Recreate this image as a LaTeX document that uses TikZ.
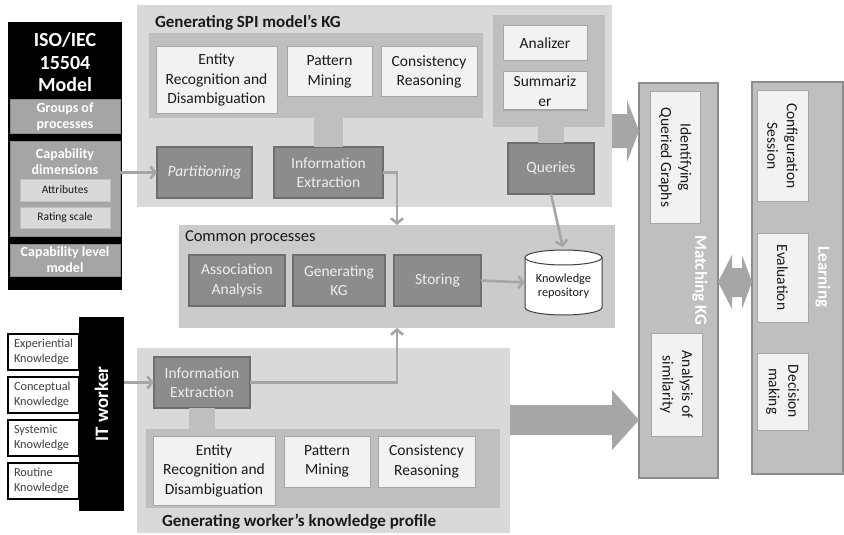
\documentclass[tikz,border=0pt]{standalone}
\usepackage{fontspec}
\setmainfont{Carlito}
\usetikzlibrary{arrows.meta,calc}

\definecolor{panelc}{HTML}{D9D9D9}
\definecolor{commonc}{HTML}{CBCBCB}
\definecolor{innerc}{HTML}{BFBFBF}
\definecolor{wboxc}{HTML}{F2F2F2}
\definecolor{wborder}{HTML}{A6A6A6}
\definecolor{dboxc}{HTML}{8C8C8C}
\definecolor{dborder}{HTML}{6E6E6E}
\definecolor{dtext}{HTML}{EEEEEE}
\definecolor{isogray}{HTML}{A5A5A5}
\definecolor{isoborder}{HTML}{8A8A8A}
\definecolor{arrc}{HTML}{A6A6A6}
\definecolor{colc}{HTML}{BFBFBF}
\definecolor{colborder}{HTML}{8C8C8C}
\definecolor{ink}{HTML}{1A1A1A}

\newcommand\fntBox{\fontsize{15.5}{19.5}\selectfont}
\newcommand\fntTitle{\fontsize{17}{20}\selectfont\bfseries}
\newcommand\fntIso{\fontsize{20}{22.5}\selectfont\bfseries}
\newcommand\fntSub{\fontsize{14}{16}\selectfont\bfseries}
\newcommand\fntSmall{\fontsize{11.5}{14}\selectfont}
\newcommand\fntKnow{\fontsize{12.3}{14.5}\selectfont}

\tikzset{
  base/.style={inner sep=0pt, outer sep=0pt, align=center},
  sz/.style 2 args={minimum width=#1pt, minimum height=#2pt},
  wbox/.style={base, fill=wboxc, draw=wborder, line width=1pt, font=\fntBox, text=ink},
  dbox/.style={base, fill=dboxc, draw=dborder, line width=1.2pt, font=\fntBox, text=dtext},
  isobox/.style={base, fill=isogray, draw=isoborder, line width=1pt, font=\fntSub, text=white},
  lbox/.style={base, fill=panelc, draw=innerc, line width=1pt, font=\fntSmall, text=ink},
  kbox/.style={base, fill=white, draw=black, line width=1.4pt, font=\fntKnow, text=black!75,
               align=left, text width=59pt},
  column/.style={base, fill=colc, draw=colborder, line width=1.5pt},
  arr/.style={draw=arrc, line width=2.6pt, -{Straight Barb[length=5pt,width=12pt]}},
  stub/.style={draw=innerc},
  blockarr/.style={fill=arrc},
}

\begin{document}
\begin{tikzpicture}[x=1pt,y=-1pt]
\fill[white] (0,0) rectangle (844,535);
\useasboundingbox (0,0) rectangle (844,535);

% ---- ISO/IEC 15504 model ----
\node[base, fill=black, sz={114}{268}] (iso) at (65,156) {};
\node[base, font=\fntIso, text=white] (isotitle) at (65,62.5) {ISO/IEC\\15504\\Model};
\node[isobox, sz={110}{33}] (groups) at (65,116.5) {Groups of\\processes};
\node[isobox, sz={110}{95}] (capdim) at (65,188.5) {};
\node[base, font=\fntSub, text=white] (capdimtext) at (65,162) {Capability\\dimensions};
\node[lbox, sz={90}{22}] (attr) at (65,190) {Attributes};
\node[lbox, sz={90}{21}] (rating) at (65,217.5) {Rating scale};
\node[isobox, sz={110}{32}] (caplevel) at (65,260) {Capability level\\model};

% ---- Generating SPI model's KG ----
\node[base, fill=panelc, sz={475}{202}] (spi) at (374.5,106) {};
\node[base, font=\fntTitle, text=ink, anchor=west] (spititle) at (155,23) {Generating SPI model’s KG};
\node[base, fill=innerc, sz={334}{85}] (spiinner) at (316,75.5) {};
\node[wbox, sz={121}{66}] (ent1) at (216.5,80) {Entity\\Recognition and\\Disambiguation};
\node[wbox, sz={85}{50}] (pat1) at (329.5,72) {Pattern\\Mining};
\node[wbox, sz={96}{50}] (con1) at (429,72) {Consistency\\Reasoning};
\node[base, fill=innerc, sz={112}{112}] (qpanel) at (549,71) {};
\node[wbox, sz={84}{35}] (anal) at (545,43.5) {Analizer};
\node[wbox, sz={84}{38}] (summ) at (545,91) {Summariz\\er};
\node[dbox, sz={95}{51}, font=\fntBox\itshape] (part) at (204.5,172.5) {Partitioning};
\node[dbox, sz={109}{51}] (ie1) at (328.5,172.5) {Information\\Extraction};
\node[dbox, sz={86}{51}] (queries) at (551,168.5) {Queries};
\draw[stub, line width=29pt] (ie1.north |- spiinner.south) -- (ie1.north);
\draw[stub, line width=26pt] (queries.north |- qpanel.south) -- (queries.north);

% ---- Common processes ----
\node[base, fill=commonc, sz={436}{103}] (common) at (397,276.5) {};
\node[base, font=\fontsize{16.5}{19}\selectfont, text=ink, anchor=west] (commontitle) at (185,237) {Common processes};
\node[dbox, sz={96}{51}] (assoc) at (237,280.5) {Association\\Analysis};
\node[dbox, sz={92}{51}] (genkg) at (339,280.5) {Generating\\KG};
\node[dbox, sz={87}{51}] (storing) at (437.5,280.5) {Storing};
\node[base, sz={77}{65}] (repo) at (563.5,282.5) {};
\draw[fill=white, draw=black!75, line width=1pt]
  ([yshift=-7.5pt]repo.north west) -- ([yshift=7.5pt]repo.south west)
  arc[start angle=180, end angle=360, x radius=38.5pt, y radius=7.5pt]
  -- ([yshift=-7.5pt]repo.north east)
  arc[start angle=0, end angle=180, x radius=38.5pt, y radius=7.5pt] -- cycle;
\draw[draw=black!75, line width=1pt] ([yshift=-7.5pt]repo.north west)
  arc[start angle=180, end angle=360, x radius=38.5pt, y radius=7.5pt];
\node[base, font=\fntKnow, text=ink] (repotext) at (563.5,286) {Knowledge\\repository};

% ---- Generating worker's knowledge profile ----
\node[base, fill=panelc, sz={373}{185}] (wkp) at (323.5,440.5) {};
\node[base, fill=innerc, sz={354}{79}] (wkpinner) at (323,468.5) {};
\node[dbox, sz={96}{51}] (ie2) at (202,382.5) {Information\\Extraction};
\draw[stub, line width=26pt] (ie2.south) -- (ie2.south |- wkpinner.north);
\node[wbox, sz={122}{69}] (ent2) at (214,470.5) {Entity\\Recognition and\\Disambiguation};
\node[wbox, sz={86}{51}] (pat2) at (327,461.5) {Pattern\\Mining};
\node[wbox, sz={97}{51}] (con2) at (426.5,461.5) {Consistency\\Reasoning};
\node[base, font=\fntTitle, text=ink, anchor=west] (wkptitle) at (162,522) {Generating worker’s knowledge profile};

% ---- IT worker ----
\node[base, fill=black, sz={45}{194}] (itw) at (101.5,414) {};
\node[base, rotate=90, font=\fontsize{19}{22}\selectfont\bfseries, text=white] (itwtext) at (101.5,404) {IT worker};
\node[kbox, sz={71}{36}] (kexp) at (43.5,352) {Experiential\\Knowledge};
\node[kbox, sz={71}{36}] (kcon) at (43.5,395) {Conceptual\\Knowledge};
\node[kbox, sz={71}{36}] (ksys) at (43.5,438) {Systemic\\Knowledge};
\node[kbox, sz={71}{36}] (krou) at (43.5,481) {Routine\\Knowledge};

% ---- Matching KG ----
\node[column, sz={79}{395}] (match) at (678.5,280.5) {};
\node[wbox, rotate=-90, sz={131}{50}] (idqg) at (675,157.5) {Identifying\\Queried Graphs};
\node[wbox, rotate=-90, sz={103}{51}] (sim) at (676.5,384.5) {Analysis of\\similarity};
\node[base, rotate=-90, font=\fntTitle, text=white] (matchtext) at (700,280) {Matching KG};

% ---- Learning ----
\node[column, sz={91}{392}] (learn) at (797.5,278) {};
\node[wbox, rotate=-90, sz={110}{51}] (config) at (782.5,146) {Configuration\\Session};
\node[wbox, rotate=-90, sz={89}{51}] (eval) at (782.5,277.5) {Evaluation};
\node[wbox, rotate=-90, sz={77}{51}] (decide) at (782.5,391.5) {Decision\\making};
\node[base, rotate=-90, font=\fntTitle, text=white] (learntext) at (823,277) {Learning};

% ---- connectors ----
\draw[arr] (part.west -| capdim.east) -- (part.west);
\draw[arr] (ie1.east) -| (common.north);
\draw[arr, shorten >=3pt] (queries.south) -- (repo.north);
\draw[arr] (storing.east) -- (repo.west);
\draw[arr] (ie2.west -| itw.east) -- (ie2.west);
\draw[arr] (ie2.east) -| (common.south);

% ---- block arrows ----
\coordinate (ta) at (match.west |- 0,131);
\fill[blockarr] (ta) -- ++(-12,-31) -- ++(0,14) -- (spi.east |- 0,114)
  -- (spi.east |- 0,148) -- ($(ta)+(-12,17)$) -- ++(0,14) -- cycle;
\coordinate (tb) at (match.west |- 0,420);
\fill[blockarr] (tb) -- ++(-27,-30) -- ++(0,15) -- (wkp.east |- 0,405)
  -- (wkp.east |- 0,435) -- ($(tb)+(-27,15)$) -- ++(0,15) -- cycle;
\coordinate (dl) at (match.east |- 0,282);
\coordinate (dr) at (learn.west |- 0,282);
\fill[blockarr] (dl) -- ++(14,-27) -- ++(0,13) -- ++(10,0) -- ++(0,-13) -- (dr)
  -- ++(-10,27) -- ++(0,-12) -- ++(-10,0) -- ++(0,12) -- cycle;
\end{tikzpicture}
\end{document}
